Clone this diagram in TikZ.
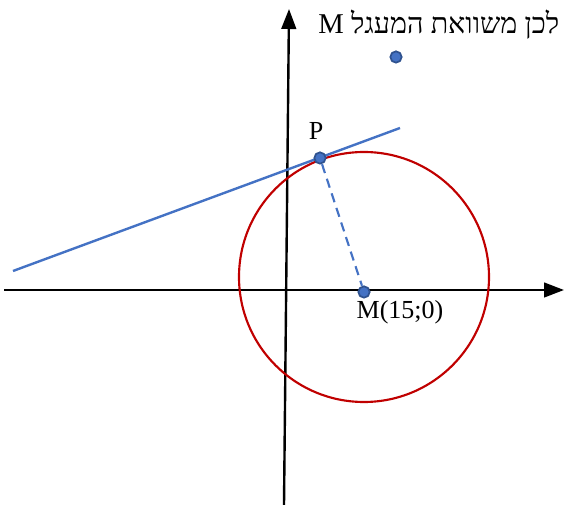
\documentclass[tikz,border=0pt]{standalone}
\usepackage{fontspec}
\setmainfont{Liberation Serif}
\newfontfamily\hebfont[Script=Hebrew]{Liberation Serif}
\TeXXeTstate=1
\usetikzlibrary{arrows.meta}
\definecolor{CircRed}{HTML}{C00000}
\definecolor{TanBlue}{HTML}{4472C4}
\definecolor{DotEdge}{HTML}{2F528F}

\begin{document}
\begin{tikzpicture}[x=0.75pt,y=-0.75pt,
  axis/.style={line width=1.8pt,-{Triangle[length=15pt,width=11pt]}},
  dot/.style={circle,fill=TanBlue,draw=DotEdge,line width=1.3pt,inner sep=0pt,minimum size=8.5pt},
  lbl/.style={font=\fontsize{19.5}{22}\selectfont}]
  \useasboundingbox (0,0) rectangle (564,505);
  % axes
  \coordinate (xl) at (4,290);
  \coordinate (xr) at (564,290);
  \coordinate (yb) at (284,505);
  \coordinate (yt) at (289,9);
  \draw[axis] (xl) -- (xr);
  \draw[axis] (yb) -- (yt);
  % circle
  \draw[CircRed,line width=1.6pt] (364,277) circle[radius=125];
  % tangent line
  \coordinate (ta) at (13,271);
  \coordinate (tb) at (400,128);
  \draw[TanBlue,line width=1.8pt] (ta) -- (tb);
  % points
  \node[dot] (M) at (364,292) {};
  \node[dot] (P) at (320,158) {};
  \node[dot] (Q) at (396,57) {};
  \draw[TanBlue,line width=1.6pt,dash pattern=on 7pt off 4.5pt] (P) -- (M);
  % labels
  \node[lbl,anchor=north] at (400,296) {M(15;0)};
  \node[lbl] at (316,131) {P};
  \node[lbl,anchor=east,font=\fontsize{21.5}{24}\selectfont] at (564,25) {\hebfont\beginR לכן משוואת המעגל M\endR};
\end{tikzpicture}
\end{document}
